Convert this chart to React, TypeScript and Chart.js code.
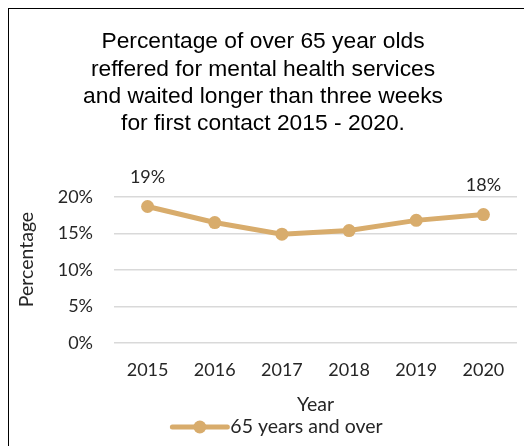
import React, { useEffect, useRef } from 'react';
import { Chart, registerables } from 'chart.js';

Chart.register(...registerables);

const categories = ['2015', '2016', '2017', '2018', '2019', '2020'];
const seriesLabel = '65 years and over';
const values = [18.7, 16.5, 14.9, 15.4, 16.8, 17.6];
const labelledIndexes = [0, 5];
const titleLines = [
  'Percentage of over 65 year olds',
  'reffered for mental health services',
  'and waited longer than three weeks',
  'for first contact 2015 - 2020.',
];
const yAxisTitle = 'Percentage';
const xAxisTitle = 'Year';

const LINE_COLOR = '#D8AC6C';
const TEXT_COLOR = '#262626';
const GRID_COLOR = '#d9d9d9';
const FONT = 'Lato, "Noto Sans", sans-serif';

const overlayPlugin = {
  id: 'overlay',
  afterDatasetsDraw(chart: any) {
    const ctx = chart.ctx;
    const meta = chart.getDatasetMeta(0);
    ctx.save();
    ctx.font = `18px ${FONT}`;
    ctx.fillStyle = TEXT_COLOR;
    ctx.textAlign = 'center';
    ctx.textBaseline = 'middle';
    labelledIndexes.forEach((i) => {
      const p = meta.data[i];
      ctx.fillText(Math.round(values[i]) + '%', p.x, p.y - 29);
    });
    // y axis title
    ctx.font = `19.5px ${FONT}`;
    ctx.save();
    ctx.translate(18, 250.5);
    ctx.rotate(-Math.PI / 2);
    ctx.fillText(yAxisTitle, 0, 0);
    ctx.restore();
    // legend
    const text = chart.data.datasets[0].label;
    const tw = ctx.measureText(text).width;
    const lineLen = 55;
    const gap = 3;
    const total = lineLen + gap + tw;
    const x0 = chart.width / 2 + 7 - total / 2;
    const y = chart.height - 19;
    ctx.strokeStyle = LINE_COLOR;
    ctx.lineWidth = 5;
    ctx.lineCap = 'round';
    ctx.beginPath();
    ctx.moveTo(x0, y);
    ctx.lineTo(x0 + lineLen, y);
    ctx.stroke();
    ctx.fillStyle = LINE_COLOR;
    ctx.beginPath();
    ctx.arc(x0 + lineLen / 2, y, 6.5, 0, Math.PI * 2);
    ctx.fill();
    ctx.fillStyle = TEXT_COLOR;
    ctx.textAlign = 'left';
    ctx.fillText(text, x0 + lineLen + gap, y);
    ctx.restore();
  },
};

export default function App() {
  const ref = useRef<HTMLCanvasElement>(null);
  useEffect(() => {
    document.documentElement.style.overflow = 'hidden';
    document.body.style.overflow = 'hidden';
    const chart = new Chart(ref.current as HTMLCanvasElement, {
      type: 'line',
      data: {
        labels: categories,
        datasets: [
          {
            label: seriesLabel,
            data: values,
            borderColor: LINE_COLOR,
            backgroundColor: LINE_COLOR,
            borderWidth: 5,
            pointRadius: 6.5,
            pointHoverRadius: 6.5,
            pointBackgroundColor: LINE_COLOR,
            pointBorderWidth: 0,
            tension: 0,
          },
        ],
      },
      options: {
        responsive: false,
        animation: false,
        devicePixelRatio: 1,
        layout: { padding: { left: 0, right: 15, top: 0, bottom: 30 } },
        plugins: {
          legend: { display: false },
          tooltip: { enabled: false },
          title: {
            display: true,
            text: titleLines,
            color: '#000',
            font: { family: '"Liberation Sans", Arial, sans-serif', size: 22.8, weight: 'normal', lineHeight: 1.2 },
            padding: { top: 19.4, bottom: 59.2 },
          },
        },
        scales: {
          x: {
            offset: true,
            grid: { display: false, drawTicks: false },
            border: { display: false },
            ticks: { color: TEXT_COLOR, font: { family: FONT, size: 18 }, padding: 17, maxRotation: 0 },
            title: { display: true, text: xAxisTitle, color: TEXT_COLOR, font: { family: FONT, size: 19.5 }, padding: 0 },
            afterFit: (s: any) => { s.height = 73.2; },
          },
          y: {
            min: 0,
            max: 20,
            grid: { color: GRID_COLOR, lineWidth: 1.5, drawTicks: false },
            border: { display: false },
            ticks: {
              stepSize: 5,
              color: TEXT_COLOR,
              font: { family: FONT, size: 18 },
              padding: 21,
              callback: (v: any) => v + '%',
            },
            title: { display: false },
            afterFit: (s: any) => { s.width = 105; },
          },
        },
      },
      plugins: [overlayPlugin],
    });
    return () => chart.destroy();
  }, []);
  return (
    <div
      style={{
        borderLeft: '2px solid #000',
        borderTop: '2px solid #000',
        marginLeft: -1,
        marginTop: -1,
        width: 523,
        height: 437,
        background: '#fff',
      }}
    >
      <canvas ref={ref} width={523} height={437} style={{ width: 523, height: 437, display: 'block' }} />
    </div>
  );
}
